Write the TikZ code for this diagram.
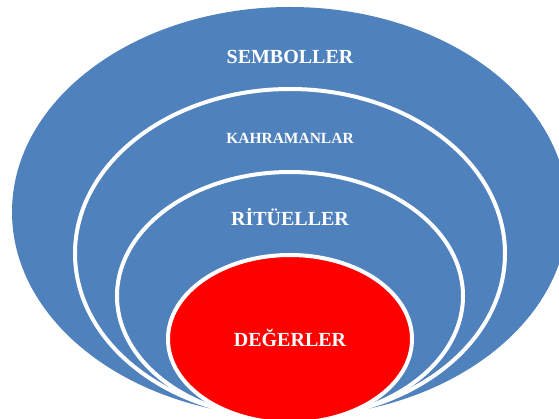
\documentclass[tikz,border=0pt]{standalone}
\usepackage{fontspec}
\setmainfont{Liberation Serif}
\begin{document}
\begin{tikzpicture}[x=1pt,y=-1pt,
  layer/.style={fill=layerblue, draw=white, line width=4pt},
  core/.style={fill=red, draw=white, line width=4pt},
  lbl/.style={text=white, font=\bfseries\fontsize{20}{24}\selectfont, anchor=base, inner sep=0pt},
  smalllbl/.style={lbl, font=\bfseries\fontsize{15.5}{18}\selectfont}]
  \definecolor{layerblue}{HTML}{4F81BD}
  \useasboundingbox (0,0) rectangle (559,419);
  \clip (0,0) rectangle (559,419);
  % nested layers, all touching near the bottom
  \fill[layerblue] (290,212) ellipse [x radius=278, y radius=205];
  \path[layer] (290,253.5) ellipse [x radius=215, y radius=164.5];
  \path[layer] (290,296) ellipse [x radius=173, y radius=124];
  \path[core] (290,339) ellipse [x radius=122, y radius=84];
  % labels
  \node[lbl] (symbols) at (290,64) {SEMBOLLER};
  \node[smalllbl] (heroes) at (290,144) {KAHRAMANLAR};
  \node[lbl] (rituals) at (290,226) {RİTÜELLER};
  \node[lbl] (values) at (290,346) {DEĞERLER};
\end{tikzpicture}
\end{document}
